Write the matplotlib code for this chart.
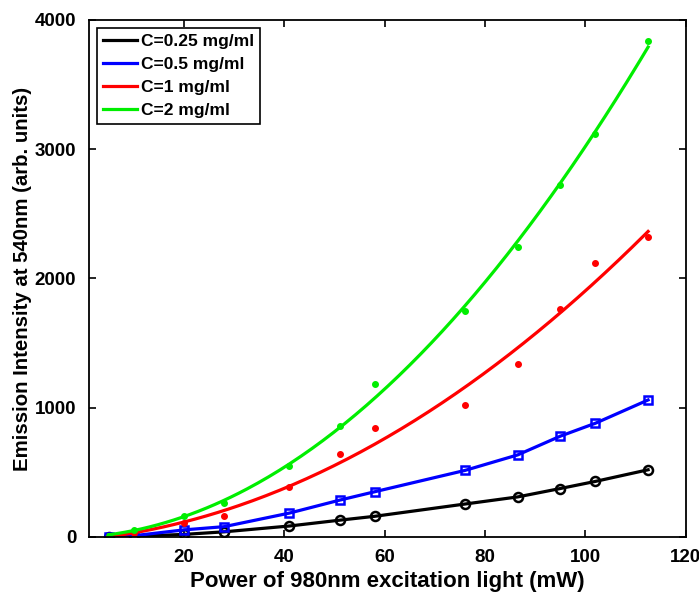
import numpy as np
import matplotlib
matplotlib.use("Agg")
import matplotlib.pyplot as plt

plt.rcParams['font.family'] = ['Liberation Sans', 'DejaVu Sans']
plt.rcParams['font.weight'] = 'bold'

power = [5, 10, 20, 28, 41, 51, 58, 76, 86.5, 95, 102, 112.5]
c025 = [0, 5, 20, 40, 85, 130, 160, 255, 310, 375, 430, 520]
c05 = [0, 10, 55, 80, 185, 285, 350, 515, 635, 780, 880, 1060]
c1 = [5, 30, 110, 165, 385, 640, 840, 1020, 1340, 1760, 2120, 2320]
c2 = [10, 55, 160, 260, 550, 860, 1180, 1745, 2240, 2720, 3120, 3840]
labels = ['C=0.25 mg/ml', 'C=0.5 mg/ml', 'C=1 mg/ml', 'C=2 mg/ml']
xticks = [20, 40, 60, 80, 100, 120]
yticks = [0, 1000, 2000, 3000, 4000]

fig = plt.figure(figsize=(6.99, 5.95), dpi=100)
ax = fig.add_axes([0.127, 0.0975, 0.854, 0.869])

x = np.array(power)
ax.plot(x, c025, color='black', lw=2.3, marker='o', ms=6.5, mfc='none', mew=1.8, label=labels[0])
ax.plot(x, c05, color='#0000ff', lw=2.3, marker='s', ms=5.5, mfc='none', mew=1.8, label=labels[1])

xf = np.linspace(x.min(), x.max(), 200)
for data, col, lab in [(c1, '#ff0000', labels[2]), (c2, '#00ee00', labels[3])]:
    p = np.polyfit(x, data, 2)
    ax.plot(xf, np.polyval(p, xf), color=col, lw=2.3, label=lab)
    ax.plot(x, data, ls='none', marker='o', ms=4, color=col)

ax.set_xlim(1, 120)
ax.set_ylim(0, 4000)
ax.set_xticks(xticks)
ax.set_yticks(yticks)
ax.tick_params(direction='in', top=True, right=True, labelsize=13.5, width=1.2, length=5, pad=9)
for s in ax.spines.values():
    s.set_linewidth(1.3)
for t in ax.get_xticklabels() + ax.get_yticklabels():
    t.set_fontweight('bold')
ax.set_xlabel('Power of 980nm excitation light (mW)', fontsize=16, fontweight='bold', labelpad=3)
ax.set_ylabel('Emission Intensity at 540nm (arb. units)', fontsize=14.7, fontweight='bold', labelpad=2)

leg = ax.legend(loc='upper left', fontsize=12.5, handlelength=2.0, handletextpad=0.2,
                borderpad=0.35, labelspacing=0.45, fancybox=False, framealpha=1,
                edgecolor='black', borderaxespad=0.45)
for h in leg.legend_handles:
    h.set_marker('')
leg.get_frame().set_linewidth(1.2)
for t in leg.get_texts():
    t.set_fontweight('bold')

fig.savefig('out.png', dpi=100)
